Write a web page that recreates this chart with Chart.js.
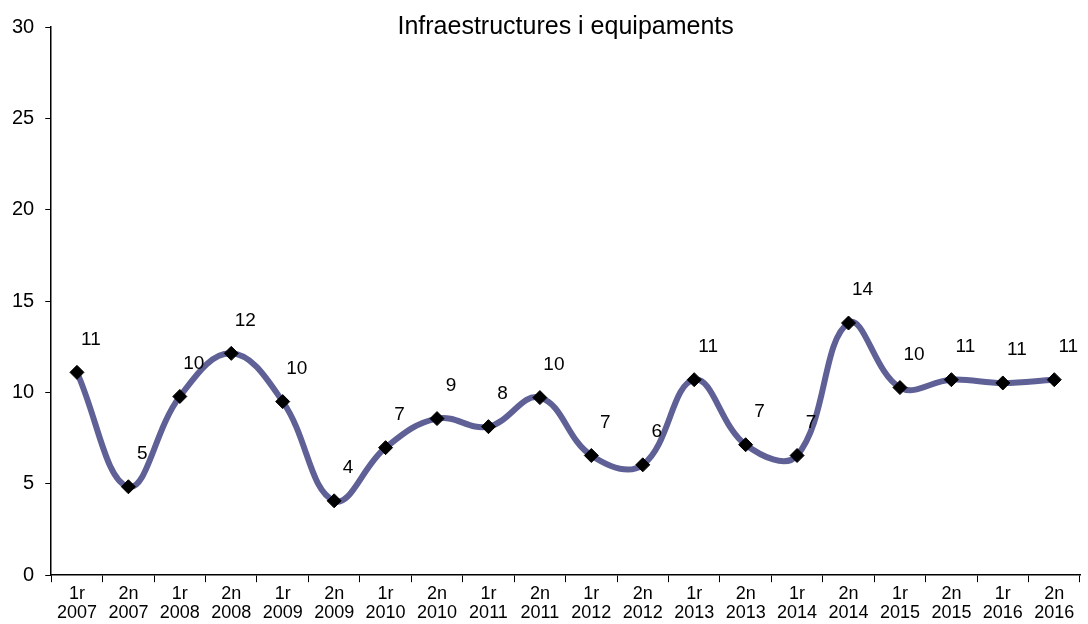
<!DOCTYPE html>
<html>
<head>
<meta charset="utf-8">
<script src="https://cdn.jsdelivr.net/npm/chart.js@4"></script>
<style>
  html, body { margin: 0; padding: 0; background: #fff; }
  #wrap { width: 1088px; height: 624px; }
</style>
</head>
<body>
<div id="wrap"><canvas id="myChart" width="1088" height="624"></canvas></div>
<script>
// categories (half-year + year)
const halves = ["1r", "2n", "1r", "2n", "1r", "2n", "1r", "2n", "1r", "2n",
  "1r", "2n", "1r", "2n", "1r", "2n", "1r", "2n", "1r", "2n"];
const years = ["2007", "2007", "2008", "2008", "2009", "2009", "2010", "2010", "2011", "2011",
  "2012", "2012", "2013", "2013", "2014", "2014", "2015", "2015", "2016", "2016"];

// values
const values = [11.1, 4.84, 9.78, 12.14, 9.5, 4.07, 6.98, 8.57, 8.13, 9.72,
  6.55, 6.04, 10.7, 7.14, 6.55, 13.8, 10.27, 10.7, 10.52, 10.7];

const yTicks = [0, 5, 10, 15, 20, 25, 30];
const chartTitle = "Infraestructures i equipaments";

const labels = halves.map((h, i) => [h, years[i]]);
const font = "Liberation Sans, Arial, sans-serif";

// title sits inside the plot area, so draw it by hand
const titlePlugin = {
  id: "insideTitle",
  afterDraw(chart) {
    const ctx = chart.ctx;
    const area = chart.chartArea;
    ctx.save();
    ctx.font = "25px " + font;
    ctx.fillStyle = "#000";
    ctx.textAlign = "center";
    ctx.textBaseline = "middle";
    ctx.fillText(chartTitle, (area.left + area.right) / 2, area.top);
    ctx.restore();
  },
};

// rounded value labels above-right of each point
const valueLabels = {
  id: "valueLabels",
  afterDatasetsDraw(chart) {
    const ctx = chart.ctx;
    const meta = chart.getDatasetMeta(0);
    ctx.save();
    ctx.font = "19px " + font;
    ctx.fillStyle = "#000";
    ctx.textAlign = "center";
    ctx.textBaseline = "middle";
    meta.data.forEach((pt, i) => {
      ctx.fillText(String(Math.round(values[i])), pt.x + 14, pt.y - 33);
    });
    ctx.restore();
  },
};

const config = {
  type: "line",
  data: {
    labels,
    datasets: [
      {
        data: values,
        borderColor: "#5f6096",
        borderWidth: 6,
        tension: 0.4,
        pointStyle: "rectRot",
        pointRadius: 7,
        pointHoverRadius: 7,
        pointBackgroundColor: "#000",
        pointBorderColor: "#000",
        pointBorderWidth: 1,
        fill: false,
      },
    ],
  },
  options: {
    responsive: false,
    animation: false,
    layout: { padding: { top: 27, right: 0, left: 1, bottom: 0 } },
    plugins: {
      legend: { display: false },
      title: { display: false },
      tooltip: { enabled: false },
    },
    scales: {
      x: {
        offset: true,
        grid: {
          display: true,
          offset: true,
          drawOnChartArea: false,
          drawTicks: true,
          tickLength: 7,
          color: "#000",
        },
        border: { display: true, color: "#000", width: 1.5 },
        ticks: {
          color: "#000",
          font: { family: font, size: 18, lineHeight: 1.05 },
          maxRotation: 0,
          autoSkip: false,
          padding: 2,
        },
      },
      y: {
        min: 0,
        max: 30,
        afterBuildTicks(axis) {
          axis.ticks = yTicks.map((v) => ({ value: v }));
        },
        grid: {
          display: true,
          drawOnChartArea: false,
          drawTicks: true,
          tickLength: 6,
          color: "#000",
        },
        border: { display: true, color: "#000", width: 1.5 },
        ticks: {
          color: "#000",
          font: { family: font, size: 20 },
          padding: 11,
        },
      },
    },
  },
  plugins: [titlePlugin, valueLabels],
};

const myChart = new Chart(document.getElementById("myChart"), config);
</script>
</body>
</html>
